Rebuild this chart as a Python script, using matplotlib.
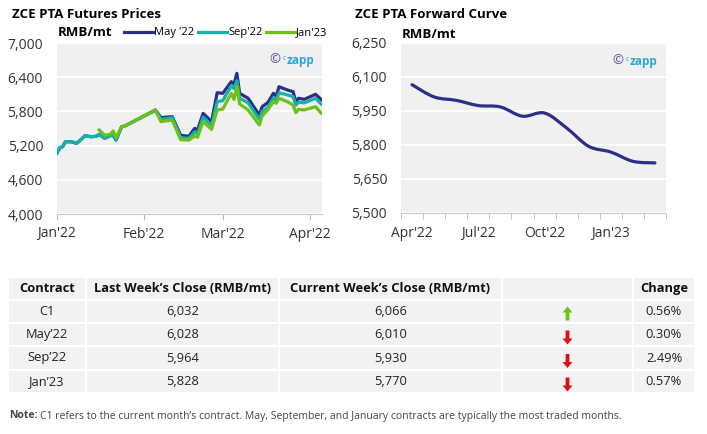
"""ZCE PTA futures prices, forward curve and weekly close table."""

import numpy as np
import matplotlib
matplotlib.use("Agg")
import matplotlib.pyplot as plt
from matplotlib.lines import Line2D
from matplotlib.path import Path
from matplotlib import patches

plt.rcParams["font.family"] = ["Open Sans", "DejaVu Sans"]

# futures prices: x is days since 1 Jan 2022
days = [0, 1, 2, 3, 5, 7, 8, 10, 12, 14, 15, 17, 19, 20, 21, 23, 24,
        35, 37, 41, 44, 46, 47, 49, 50, 52, 55, 57, 59, 62, 63, 64,
        65, 68, 72, 73, 75, 77, 78, 79, 82, 84, 85, 86, 88, 92, 94]
may22 = [5065, 5163, 5181, 5268, 5268, 5240, 5281, 5374, 5356, 5363, 5398,
         5328, 5374, 5380, 5298, 5532, 5540,
         5825, 5690, 5708, 5380, 5368, 5368, 5503, 5474, 5766, 5620,
         6128, 6117, 6321, 6281, 6468,
         6117, 6030, 5737, 5883, 5953, 6117, 6070, 6233, 6175, 6146, 5970,
         6030, 6012, 6100, 6010]
sep22 = [5065, 5163, 5181, 5268, 5268, 5240, 5281, 5374, 5356, 5363, 5398,
         5328, 5374, 5380, 5298, 5532, 5540,
         5815, 5660, 5690, 5340, 5330, 5330, 5440, 5410, 5700, 5550,
         5970, 5990, 6246, 6200, 6339,
         6030, 5950, 5660, 5800, 5870, 6030, 6000, 6128, 6090, 6060, 5911,
         5960, 5950, 6030, 5930]
jan23 = [None] * 10 + [5474,
         5380, 5400, 5456, 5340, 5532, 5540,
         5825, 5620, 5650, 5305, 5298, 5298, 5368, 5345, 5620, 5485,
         5825, 5840, 6117, 6012, 6233,
         5930, 5825, 5561, 5719, 5825, 5970, 5942, 6030, 5970, 5911, 5778,
         5836, 5825, 5883, 5770]
month_ticks = [0, 31, 59, 90]
month_labels = ["Jan'22", "Feb'22", "Mar'22", "Apr'22"]

# forward curve
fwd_months = ["Apr'22", "May'22", "Jun'22", "Jul'22", "Aug'22", "Sep'22",
              "Oct'22", "Nov'22", "Dec'22", "Jan'23", "Feb'23", "Mar'23"]
fwd_vals = [6066, 6012, 5997, 5974, 5968, 5927, 5941, 5875, 5794, 5769,
            5728, 5721]

# table
contracts = ["C1", "May’22", "Sep’22", "Jan’23"]
last_close = ["6,032", "6,028", "5,964", "5,828"]
curr_close = ["6,066", "6,010", "5,930", "5,770"]
change = ["0.56%", "0.30%", "2.49%", "0.57%"]
direction = ["up", "down", "down", "down"]

NAVY = "#2c2f87"
TEAL = "#13b2a6"
GREEN = "#6cc21a"
BG = "#f0f0f0"
TXT = "#333333"

W, H = 707, 434
fig = plt.figure(figsize=(W / 100, H / 100), dpi=100)


def fx(px):
    return px / W


def fy(py):
    return 1 - py / H


def style_axes(ax):
    ax.set_facecolor(BG)
    ax.yaxis.grid(True, color="white", lw=1.3)
    ax.set_axisbelow(True)
    for s in ["top", "right", "left"]:
        ax.spines[s].set_visible(False)
    ax.spines["bottom"].set_color("#c8c8c8")
    ax.tick_params(axis="y", length=0, pad=10, labelsize=10, labelcolor=TXT)
    ax.tick_params(axis="x", which="both", color="#bbbbbb", labelsize=10,
                   labelcolor=TXT, pad=5)


def watermark(x, y):
    fig.text(fx(x), fy(y), "©", color="#5a50a8", fontsize=9.5, va="center")
    fig.text(fx(x + 14), fy(y + 2), "c", color="#2ba6de", fontsize=5,
             va="bottom")
    fig.text(fx(x + 18), fy(y), "zapp", color="#2ba6de", fontsize=8.5,
             fontweight="bold", va="center")


# --- left chart: futures prices
ax1 = fig.add_axes([fx(57), fy(214), fx(265), 171 / H])
style_axes(ax1)
jan = np.array([np.nan if v is None else v for v in jan23], dtype=float)
ax1.plot(days, may22, color=NAVY, lw=2.3)
ax1.plot(days, sep22, color=TEAL, lw=2.3)
ax1.plot(days, jan, color=GREEN, lw=2.3)
ax1.set_xlim(0, 94.3)
ax1.set_ylim(4000, 7000)
ax1.set_yticks(np.arange(4000, 7001, 600))
ax1.set_yticklabels([f"{v:,}" for v in range(4000, 7001, 600)])
ax1.set_xticks(month_ticks)
ax1.set_xticklabels(month_labels)
ax1.tick_params(axis="x", length=4)

fig.text(fx(12), fy(15), "ZCE PTA Futures Prices", fontsize=9.5,
         fontweight="bold", va="center")
fig.text(fx(58), fy(33), "RMB/mt", fontsize=9.5, fontweight="bold",
         va="center")
handles = [Line2D([], [], color=c, lw=2.3) for c in (NAVY, TEAL, GREEN)]
fig.legend(handles, ["May '22", "Sep'22", "Jan'23"], loc="center left",
           bbox_to_anchor=(fx(124), fy(33)), ncol=3, frameon=False,
           fontsize=8, handlelength=2.6, handletextpad=0.1,
           columnspacing=0.35, borderpad=0, borderaxespad=0)
watermark(269, 60)

# --- right chart: forward curve
ax2 = fig.add_axes([fx(401), fy(213), fx(265), 170 / H])
style_axes(ax2)
xs = np.arange(len(fwd_vals), dtype=float)
ys = np.array(fwd_vals, dtype=float)
# smoothed line (Catmull-Rom as cubic Bezier segments)
px = np.concatenate([[xs[0]], xs, [xs[-1]]])
py = np.concatenate([[ys[0]], ys, [ys[-1]]])
verts = [(xs[0], ys[0])]
codes = [Path.MOVETO]
for i in range(1, len(px) - 2):
    c1 = (px[i] + (px[i + 1] - px[i - 1]) / 6,
          py[i] + (py[i + 1] - py[i - 1]) / 6)
    c2 = (px[i + 1] - (px[i + 2] - px[i]) / 6,
          py[i + 1] - (py[i + 2] - py[i]) / 6)
    verts += [c1, c2, (px[i + 1], py[i + 1])]
    codes += [Path.CURVE4] * 3
ax2.add_patch(patches.PathPatch(Path(verts, codes), fill=False,
                                edgecolor=NAVY, lw=2.3, capstyle="round"))
ax2.set_xlim(-0.5, len(fwd_vals) - 0.5)
ax2.set_ylim(5500, 6250)
ax2.set_yticks(np.arange(5500, 6251, 150))
ax2.set_yticklabels([f"{v:,}" for v in range(5500, 6251, 150)])
ax2.set_xticks(xs[::3])
ax2.set_xticklabels(fwd_months[::3])
ax2.set_xticks(np.arange(-0.5, len(fwd_vals)), minor=True)
ax2.tick_params(axis="x", which="major", length=0, pad=9)
ax2.tick_params(axis="x", which="minor", length=4)

fig.text(fx(355), fy(15), "ZCE PTA Forward Curve", fontsize=9.5,
         fontweight="bold", va="center")
fig.text(fx(402), fy(34), "RMB/mt", fontsize=9.5, fontweight="bold",
         va="center")
watermark(612, 61)

# --- table
axt = fig.add_axes([0, 0, 1, 1], zorder=-1)
axt.set_xlim(0, W)
axt.set_ylim(H, 0)
axt.axis("off")
col_edges = [8, 86, 279, 502, 633, 695]
row_edges = [277, 300, 323, 346, 370, 393]
headers = ["Contract", "Last Week’s Close (RMB/mt)",
           "Current Week’s Close (RMB/mt)", "", "Change"]
for r in range(len(row_edges) - 1):
    for c in range(len(col_edges) - 1):
        x0, x1 = col_edges[c], col_edges[c + 1]
        y0, y1 = row_edges[r], row_edges[r + 1]
        axt.add_patch(patches.Rectangle((x0 + 1, y0 + 1), x1 - x0 - 2,
                                        y1 - y0 - 2, fc="#f2f2f2", ec="none"))
centers = [(col_edges[i] + col_edges[i + 1]) / 2 for i in range(5)]
mid = [(row_edges[i] + row_edges[i + 1]) / 2 for i in range(5)]
for c, h in enumerate(headers):
    axt.text(centers[c], mid[0], h, ha="center", va="center", fontsize=9.3,
             fontweight="bold", color="#111111")
for r in range(len(contracts)):
    y = mid[r + 1]
    for c, txt in zip([0, 1, 2, 4],
                      [contracts[r], last_close[r], curr_close[r], change[r]]):
        axt.text(centers[c], y, txt, ha="center", va="center", fontsize=9.3,
                 color="#222222")
    if direction[r] == "up":
        axt.add_patch(patches.FancyArrow(centers[3], y + 9, 0, -14, width=3.8,
                                         head_width=10, head_length=6,
                                         length_includes_head=True,
                                         fc=GREEN, ec="none"))
    else:
        axt.add_patch(patches.FancyArrow(centers[3], y - 4, 0, 14, width=3.8,
                                         head_width=10, head_length=6,
                                         length_includes_head=True,
                                         fc="#dd1111", ec="none"))

# note
note_b = fig.text(fx(9), fy(416), "Note:", fontsize=7.5, fontweight="bold",
                  color="#444444", va="center")
fig.canvas.draw()
bb = note_b.get_window_extent()
fig.text(bb.x1 / W + fx(3), fy(416),
         "C1 refers to the current month’s contract. May, September, and "
         "January contracts are typically the most traded months.",
         fontsize=7.5, color="#444444", va="center")

fig.savefig("out.png", dpi=100)
